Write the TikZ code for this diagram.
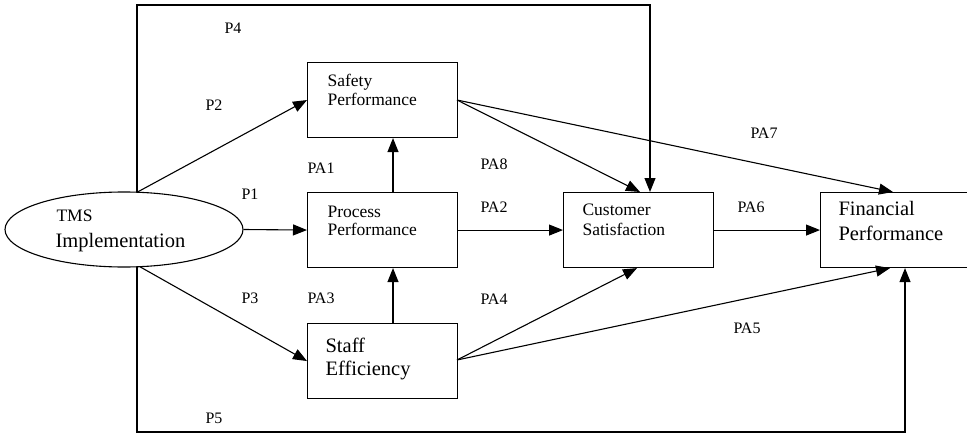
\documentclass[tikz,border=0pt]{standalone}
\usepackage{fontspec}
\setmainfont{Liberation Serif}
\usetikzlibrary{arrows.meta,shapes.geometric}
\begin{document}
\begin{tikzpicture}[x=1pt,y=-1pt,line width=1.1pt,
  box/.style={draw,minimum width=150pt,minimum height=75pt,anchor=north west,inner sep=0pt},
  arr/.style={-{Triangle[length=14pt,width=11pt]}},
  lab/.style={font=\fontsize{16}{16}\selectfont,inner sep=0pt,anchor=west},
  txt/.style={font=\fontsize{17.5}{17.5}\selectfont,inner sep=0pt,anchor=base west},
  big/.style={font=\fontsize{20.5}{20.5}\selectfont,inner sep=0pt,anchor=base west}]
\useasboundingbox (0,0) rectangle (967,436);
% boxes
\node[draw,ellipse,minimum width=238pt,minimum height=75pt,inner sep=0pt] (tms) at (124,229.5) {};
\node[box] (saf) at (307,62) {};
\node[box] (pro) at (307,192) {};
\node[box] (sta) at (307,323) {};
\node[box] (cus) at (563,192) {};
\node[draw,minimum width=147pt,minimum height=75pt,anchor=north west,inner sep=0pt] (fin) at (820,192) {};
% texts
\node[txt] (t1) at (56,221) {TMS};
\node[big] (t2) at (55,247) {Implementation};
\node[txt] (s1) at (327,87) {Safety};
\node[txt] (s2) at (327,106) {Performance};
\node[txt] (p1) at (327,217) {Process};
\node[txt] (p2) at (327,235) {Performance};
\node[big] (e1) at (325,352) {Staff};
\node[big] (e2) at (325,375) {Efficiency};
\node[txt] (c1) at (582,215) {Customer};
\node[txt] (c2) at (582,235) {Satisfaction};
\node[big] (f1) at (838,215) {Financial};
\node[big] (f2) at (838,240) {Performance};
% coordinates
\coordinate (tl) at (137,5);
\coordinate (tr) at (650,5);
\coordinate (bl) at (137,432);
\coordinate (br) at (905,432);
\coordinate (tmsT) at (137,192.3);
\coordinate (tmsB) at (137,267);
\coordinate (tmsB3) at (140,266.8);
\coordinate (safR) at (457,100);
\coordinate (staR) at (457,360);
% connectors
\draw[arr] (tmsT) -- (tl) -- (tr) -- (tr |- cus.north);
\draw[arr] (tmsB) -- (bl) -- (br) -- (br |- fin.south);
\draw[arr] (tmsT) -- (saf.west);
\draw[arr] (tms.east) -- (pro.west);
\draw[arr] (tmsB3) -- (sta.west);
\draw[arr] (pro.north -| 393,0) -- (saf.south -| 393,0);
\draw[arr] (sta.north -| 393,0) -- (pro.south -| 393,0);
\draw[arr] (safR) -- (cus.north -| 640,0);
\draw[arr] (safR) -- (fin.north -| 893,0);
\draw[arr] (pro.east) -- (cus.west);
\draw[arr] (cus.east) -- (fin.west);
\draw[arr] (staR) -- (cus.south -| 637,0);
\draw[arr] (staR) -- (fin.south -| 890,0);
% labels
\node[lab] (lP4) at (224,28) {P4};
\node[lab] (lP2) at (205,105) {P2};
\node[lab] (lPA1) at (307,168) {PA1};
\node[lab] (lP1) at (241,194) {P1};
\node[lab] (lPA8) at (480,164) {PA8};
\node[lab] (lPA7) at (750,133) {PA7};
\node[lab] (lPA2) at (480,207) {PA2};
\node[lab] (lPA6) at (737,207) {PA6};
\node[lab] (lP3) at (241,298) {P3};
\node[lab] (lPA3) at (307,298) {PA3};
\node[lab] (lPA4) at (480,299) {PA4};
\node[lab] (lPA5) at (733,328) {PA5};
\node[lab] (lP5) at (205,418) {P5};
\end{tikzpicture}
\end{document}
